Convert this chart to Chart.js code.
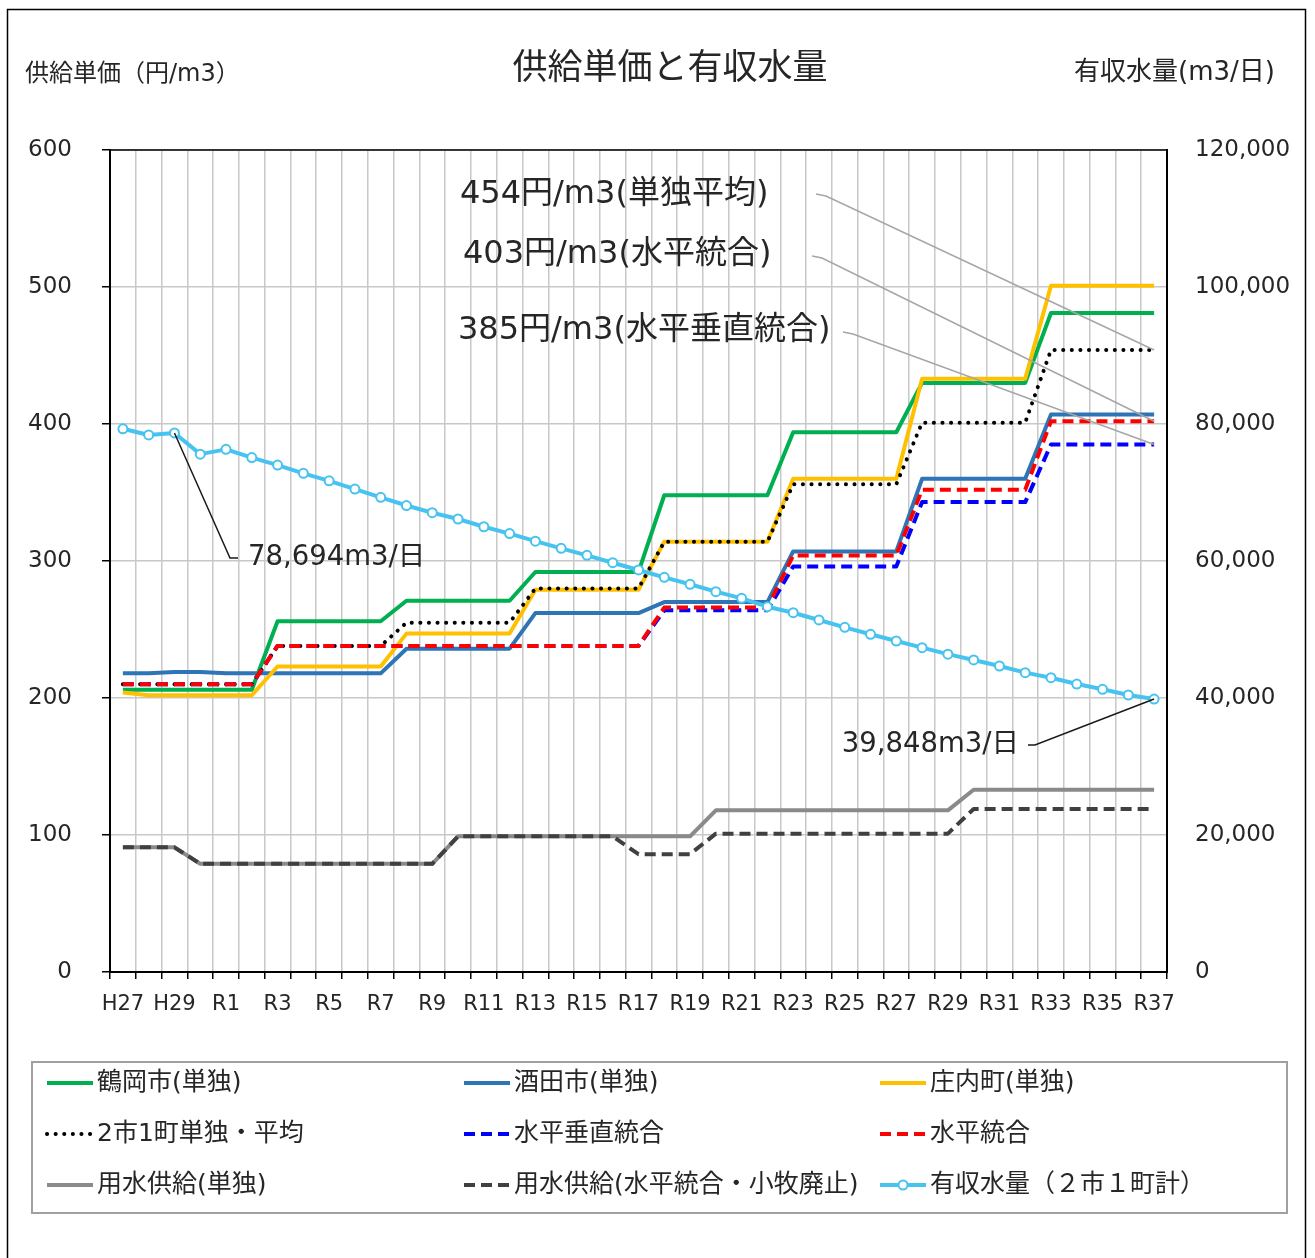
<!DOCTYPE html>
<html lang="ja">
<head>
<meta charset="utf-8">
<title>供給単価と有収水量</title>
<script src="https://cdn.jsdelivr.net/npm/chart.js@4.4.1/dist/chart.umd.min.js"></script>
<style>
    html, body { margin: 0; padding: 0; background: #fff; }
    #wrap { width: 1315px; height: 1258px; }
</style>
</head>
<body>
<div id="wrap"><canvas id="myChart" width="1315" height="1258"></canvas></div>
<script>
// ===============================
// データ
// ===============================
const years = [
    'H27', 'H28', 'H29', 'H30',
    'R1', 'R2', 'R3', 'R4', 'R5', 'R6', 'R7', 'R8', 'R9', 'R10',
    'R11', 'R12', 'R13', 'R14', 'R15', 'R16', 'R17', 'R18', 'R19', 'R20',
    'R21', 'R22', 'R23', 'R24', 'R25', 'R26', 'R27', 'R28', 'R29', 'R30',
    'R31', 'R32', 'R33', 'R34', 'R35', 'R36', 'R37'
];

// 供給単価（円/m3）
const tsuruoka = [206, 206, 206, 206, 206, 206, 256, 256, 256, 256, 256, 271, 271, 271, 271, 271,
    292, 292, 292, 292, 292, 348, 348, 348, 348, 348, 394, 394, 394, 394, 394,
    430, 430, 430, 430, 430, 481, 481, 481, 481, 481];
const sakata = [218, 218, 219, 219, 218, 218, 218, 218, 218, 218, 218, 236, 236, 236, 236, 236,
    262, 262, 262, 262, 262, 270, 270, 270, 270, 270, 307, 307, 307, 307, 307,
    360, 360, 360, 360, 360, 407, 407, 407, 407, 407];
const shonai = [204, 202, 202, 202, 202, 202, 223, 223, 223, 223, 223, 247, 247, 247, 247, 247,
    279, 279, 279, 279, 279, 314, 314, 314, 314, 314, 360, 360, 360, 360, 360,
    433, 433, 433, 433, 433, 501, 501, 501, 501, 501];
const average = [210, 210, 210, 210, 210, 210, 238, 238, 238, 238, 238, 255, 255, 255, 255, 255,
    280, 280, 280, 280, 280, 314, 314, 314, 314, 314, 356, 356, 356, 356, 356,
    401, 401, 401, 401, 401, 454, 454, 454, 454, 454];
const vertical = [210, 210, 210, 210, 210, 210, 238, 238, 238, 238, 238, 238, 238, 238, 238, 238,
    238, 238, 238, 238, 238, 264, 264, 264, 264, 264, 296, 296, 296, 296, 296,
    343, 343, 343, 343, 343, 385, 385, 385, 385, 385];
const horizontal = [210, 210, 210, 210, 210, 210, 238, 238, 238, 238, 238, 238, 238, 238, 238, 238,
    238, 238, 238, 238, 238, 266, 266, 266, 266, 266, 304, 304, 304, 304, 304,
    352, 352, 352, 352, 352, 402, 402, 402, 402, 402];
const bulkSingle = [91, 91, 91, 79, 79, 79, 79, 79, 79, 79, 79, 79, 79, 99, 99, 99, 99, 99, 99, 99,
    99, 99, 99, 118, 118, 118, 118, 118, 118, 118, 118, 118, 118,
    133, 133, 133, 133, 133, 133, 133, 133];
const bulkMerged = [91, 91, 91, 79, 79, 79, 79, 79, 79, 79, 79, 79, 79, 99, 99, 99, 99, 99, 99, 99,
    86, 86, 86, 101, 101, 101, 101, 101, 101, 101, 101, 101, 101,
    119, 119, 119, 119, 119, 119, 119, 119];

// 有収水量（m3/日）
const volume = [79300, 78400, 78694, 75600, 76300, 75100, 74000, 72800, 71700, 70500,
    69300, 68100, 67050, 66130, 65000, 64000, 62900, 61850, 60830, 59750,
    58690, 57620, 56600, 55520, 54550, 53330, 52450, 51390, 50320, 49300,
    48320, 47350, 46400, 45550, 44670, 43700, 42960, 42040, 41270, 40440, 39848];

// 目盛
const priceTicks = [0, 100, 200, 300, 400, 500, 600];
const volumeTicks = [0, 20000, 40000, 60000, 80000, 100000, 120000];

const FONT = '"DejaVu Sans", "Noto Sans CJK JP", sans-serif';
const TEXT = '#262626';

// ===============================
// 系列（凡例の並び順）
// ===============================
const datasets = [
    { label: '鶴岡市(単独)', data: tsuruoka, borderColor: '#00b050', borderWidth: 4, order: 5 },
    { label: '酒田市(単独)', data: sakata, borderColor: '#2e75b6', borderWidth: 4, order: 6 },
    { label: '庄内町(単独)', data: shonai, borderColor: '#ffc000', borderWidth: 4, order: 4 },
    { label: '2市1町単独・平均', data: average, borderColor: '#000000', borderWidth: 4,
      borderDash: [0.1, 8.5], borderCapStyle: 'round', order: 3 },
    { label: '水平垂直統合', data: vertical, borderColor: '#0000ff', borderWidth: 4,
      borderDash: [11, 6], order: 2 },
    { label: '水平統合', data: horizontal, borderColor: '#ff0000', borderWidth: 4,
      borderDash: [11, 6], order: 1 },
    { label: '用水供給(単独)', data: bulkSingle, borderColor: '#8a8a8a', borderWidth: 4, order: 8 },
    { label: '用水供給(水平統合・小牧廃止)', data: bulkMerged, borderColor: '#404040', borderWidth: 4,
      borderDash: [11, 6], order: 7 },
    { label: '有収水量（２市１町計）', data: volume, borderColor: '#47c3f0', borderWidth: 4,
      yAxisID: 'y1', pointRadius: 4.5, pointBorderWidth: 2, pointBackgroundColor: '#ffffff',
      pointBorderColor: '#47c3f0', order: 0 }
].map(d => Object.assign({ yAxisID: 'y', pointRadius: 0, tension: 0, fill: false,
    borderJoinStyle: 'round' }, d));

// ===============================
// タイトル・注記・凡例・枠
// ===============================
const decorations = {
    id: 'decorations',
    beforeDatasetsDraw(chart) {
        const { ctx, chartArea: a } = chart;
        ctx.save();
        ctx.strokeStyle = '#000';
        ctx.lineWidth = 1.5;
        ctx.beginPath();
        ctx.moveTo(a.left, a.top);
        ctx.lineTo(a.right, a.top);
        ctx.stroke();
        ctx.restore();
    },
    afterDraw(chart) {
        const { ctx } = chart;
        const x = chart.scales.x, y = chart.scales.y, y1 = chart.scales.y1;
        const last = years.length - 1;
        ctx.save();

        // 外枠
        ctx.strokeStyle = '#000';
        ctx.lineWidth = 1.5;
        ctx.strokeRect(7.5, 9.5, 1298, 1300);

        // タイトル・軸名
        ctx.fillStyle = TEXT;
        ctx.textBaseline = 'middle';
        ctx.font = `35px ${FONT}`;
        ctx.textAlign = 'center';
        ctx.fillText('供給単価と有収水量', 670, 70);
        ctx.font = `24px ${FONT}`;
        ctx.textAlign = 'left';
        ctx.fillText('供給単価（円/m3）', 25, 75);
        ctx.font = `26px ${FONT}`;
        ctx.textAlign = 'right';
        ctx.fillText('有収水量(m3/日)', 1275, 73);

        // 単価の注記（灰色の引出線）
        const notes = [
            { text: '454円/m3(単独平均)', tx: 460, ty: 195, lx: 816, ly: 194, value: average[last] },
            { text: '403円/m3(水平統合)', tx: 463, ty: 255, lx: 812, ly: 256, value: horizontal[last] },
            { text: '385円/m3(水平垂直統合)', tx: 458, ty: 331, lx: 843, ly: 332, value: vertical[last] }
        ];
        ctx.font = `32px ${FONT}`;
        ctx.textAlign = 'left';
        notes.forEach(n => {
            ctx.fillText(n.text, n.tx, n.ty);
            ctx.strokeStyle = '#a6a6a6';
            ctx.lineWidth = 1.5;
            ctx.beginPath();
            ctx.moveTo(n.lx, n.ly);
            ctx.lineTo(n.lx + 10, n.ly + 2);
            ctx.lineTo(x.getPixelForValue(last), y.getPixelForValue(n.value));
            ctx.stroke();
        });

        // 有収水量の注記（黒の引出線）
        ctx.font = `27.5px ${FONT}`;
        ctx.strokeStyle = '#1a1a1a';
        ctx.lineWidth = 1.5;
        ctx.beginPath();
        ctx.moveTo(x.getPixelForValue(2), y1.getPixelForValue(volume[2]));
        ctx.lineTo(230, 558);
        ctx.lineTo(238, 558);
        ctx.stroke();
        ctx.textAlign = 'left';
        ctx.fillText(volume[2].toLocaleString('en-US') + 'm3/日', 248, 558);

        ctx.beginPath();
        ctx.moveTo(x.getPixelForValue(last), y1.getPixelForValue(volume[last]));
        ctx.lineTo(1035, 745);
        ctx.lineTo(1028, 745);
        ctx.stroke();
        ctx.textAlign = 'right';
        ctx.fillText(volume[last].toLocaleString('en-US') + 'm3/日', 1019, 745);

        // 凡例
        ctx.strokeStyle = '#a0a0a0';
        ctx.lineWidth = 2;
        ctx.strokeRect(32, 1062, 1255, 151);
        const colX = [47, 464, 880];
        const rowY = [1083, 1134, 1185];
        ctx.font = `25px ${FONT}`;
        ctx.textAlign = 'left';
        chart.data.datasets.forEach((d, i) => {
            const lx = colX[i % 3], ly = rowY[Math.floor(i / 3)];
            ctx.save();
            ctx.strokeStyle = d.borderColor;
            ctx.lineWidth = d.borderWidth;
            ctx.lineCap = d.borderCapStyle || 'butt';
            ctx.setLineDash(d.borderDash || []);
            ctx.beginPath();
            ctx.moveTo(lx, ly);
            ctx.lineTo(lx + 46, ly);
            ctx.stroke();
            if (d.pointRadius > 0) {
                ctx.setLineDash([]);
                ctx.lineWidth = d.pointBorderWidth;
                ctx.fillStyle = d.pointBackgroundColor;
                ctx.beginPath();
                ctx.arc(lx + 23, ly, d.pointRadius, 0, Math.PI * 2);
                ctx.fill();
                ctx.stroke();
            }
            ctx.restore();
            ctx.fillText(d.label, lx + 50, ly);
        });

        ctx.restore();
    }
};

// ===============================
// グラフ描画
// ===============================
const ctx = document.getElementById('myChart').getContext('2d');
window.myChart = new Chart(ctx, {
    type: 'line',
    data: { labels: years, datasets: datasets },
    options: {
        responsive: false,
        animation: false,
        devicePixelRatio: 1,
        layout: { padding: { top: 150, bottom: 226, left: 0, right: 0 } },
        plugins: {
            legend: { display: false },
            tooltip: { enabled: false }
        },
        scales: {
            x: {
                type: 'category',
                offset: true,
                grid: { offset: true, color: '#c8c8c8', lineWidth: 1.5, tickLength: 7, tickColor: '#000' },
                border: { color: '#000', width: 2 },
                ticks: {
                    autoSkip: false, maxRotation: 0, minRotation: 0, padding: 13,
                    color: TEXT, font: { family: FONT, size: 21 },
                    callback: (v, i) => (i % 2 === 0 ? years[i] : '')
                },
                afterFit: s => { s.height = 60; }
            },
            y: {
                position: 'left',
                min: priceTicks[0],
                max: priceTicks[priceTicks.length - 1],
                afterBuildTicks: s => { s.ticks = priceTicks.map(v => ({ value: v })); },
                grid: { color: '#c8c8c8', lineWidth: 1.5, tickLength: 8, tickColor: '#000' },
                border: { color: '#000', width: 2 },
                ticks: { padding: 30, color: TEXT, font: { family: FONT, size: 23 } },
                afterFit: s => { s.width = 110; }
            },
            y1: {
                position: 'right',
                min: volumeTicks[0],
                max: volumeTicks[volumeTicks.length - 1],
                afterBuildTicks: s => { s.ticks = volumeTicks.map(v => ({ value: v })); },
                grid: { display: false, drawTicks: false },
                border: { color: '#000', width: 2 },
                ticks: {
                    padding: 28, color: TEXT, font: { family: FONT, size: 23 },
                    callback: v => v.toLocaleString('en-US')
                },
                afterFit: s => { s.width = 148; }
            }
        }
    },
    plugins: [decorations]
});
</script>
</body>
</html>
